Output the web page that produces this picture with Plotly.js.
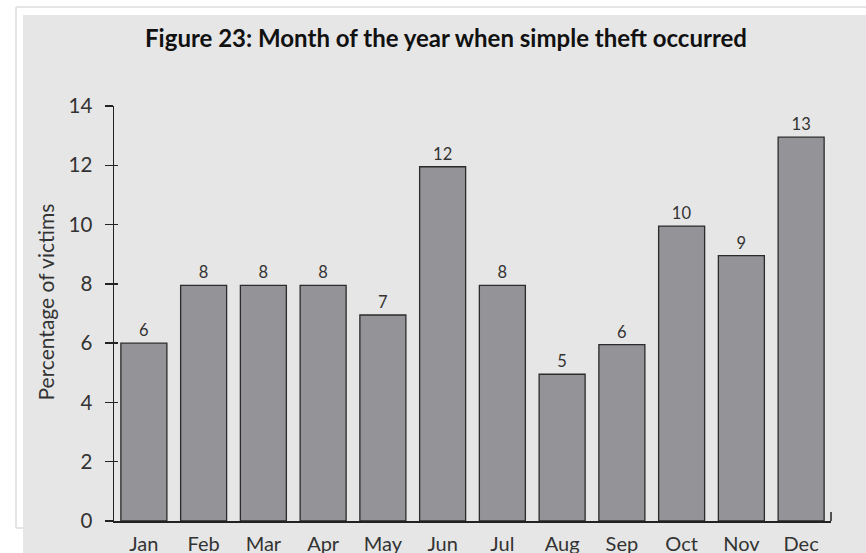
<!DOCTYPE html>
<html>
<head>
<meta charset="utf-8">
<script src="https://cdn.plot.ly/plotly-3.0.1.min.js"></script>
<style>
html, body { margin: 0; padding: 0; background: #fff; }
#chart { width: 866px; height: 553px; }
</style>
</head>
<body>
<div id="chart"></div>
<script>
// Data
var months = ["Jan", "Feb", "Mar", "Apr", "May", "Jun", "Jul", "Aug", "Sep", "Oct", "Nov", "Dec"];
var percentVictims = [6.0, 7.95, 7.95, 7.95, 6.95, 11.95, 7.95, 4.95, 5.95, 9.95, 8.95, 12.95];
var yTicks = [0, 2, 4, 6, 8, 10, 12, 14];
var chartTitle = "Figure 23: Month of the year when simple theft occurred";
var yTitle = "Percentage of victims";

var fontFam = "Lato, 'Open Sans', sans-serif";
var ink = "#222222";
var textCol = "#333333";

var trace = {
  type: "bar",
  x: months,
  y: percentVictims,
  marker: { color: "#939398", line: { color: "#2b2b2b", width: 1.3 } },
  texttemplate: "%{y:.0f}",
  textposition: "outside",
  textfont: { family: fontFam, size: 16.5, color: textCol },
  cliponaxis: false,
  hoverinfo: "x+y"
};

var W = 866, H = 553;
var mL = 114, mR = 35, mT = 106, mB = 32;
var pw = W - mL - mR, ph = H - mT - mB;
function px2x(p) { return (p - mL) / pw; }
function py2y(p) { return (H - mB - p) / ph; }

var layout = {
  width: W, height: H,
  margin: { l: mL, r: mR, t: mT, b: mB, pad: 0 },
  paper_bgcolor: "#ffffff",
  plot_bgcolor: "rgba(0,0,0,0)",
  bargap: 0.23,
  showlegend: false,
  title: {
    text: "<b>" + chartTitle + "</b>",
    font: { family: fontFam, size: 24, color: "#111111" },
    xref: "container", x: 446 / W, xanchor: "center",
    yref: "container", y: 1 - 38.5 / H, yanchor: "middle"
  },
  xaxis: {
    type: "category",
    range: [-0.5, months.length - 0.5],
    showline: true, linecolor: ink, linewidth: 1.5,
    ticks: "", showgrid: false, zeroline: false,
    tickfont: { family: fontFam, size: 20, color: textCol },
    ticklabelstandoff: 4
  },
  yaxis: {
    range: [0, 14],
    tickvals: yTicks,
    ticks: "outside", ticklen: 8, tickwidth: 1.5, tickcolor: ink,
    showline: true, linecolor: ink, linewidth: 1.5,
    showgrid: false, zeroline: false,
    tickfont: { family: fontFam, size: 20.5, color: textCol },
    ticklabelstandoff: 8
  },
  yaxis2: {
    overlaying: "y", anchor: "x", side: "left",
    range: [0, 14], tickvals: yTicks,
    ticks: "inside", ticklen: 4, tickwidth: 1.5, tickcolor: ink,
    showticklabels: false, showline: false, showgrid: false, zeroline: false
  },
  annotations: [
    { text: yTitle, textangle: -90, showarrow: false,
      xref: "paper", yref: "paper", x: px2x(45), y: py2y(302.5),
      xanchor: "center", yanchor: "middle",
      font: { family: fontFam, size: 21, color: textCol } }
  ],
  shapes: [
    // gray panel
    { type: "rect", layer: "below", xref: "paper", yref: "paper",
      x0: px2x(23), x1: px2x(880), y0: py2y(15), y1: py2y(570),
      fillcolor: "#e6e6e6", line: { width: 0 } },
    // faint outer frame
    { type: "line", layer: "below", xref: "paper", yref: "paper",
      x0: px2x(16), x1: px2x(880), y0: py2y(7), y1: py2y(7),
      line: { color: "#dcdcdc", width: 1.5 } },
    { type: "line", layer: "below", xref: "paper", yref: "paper",
      x0: px2x(16), x1: px2x(16), y0: py2y(7), y1: py2y(528),
      line: { color: "#dcdcdc", width: 1.5 } },
    { type: "line", layer: "below", xref: "paper", yref: "paper",
      x0: px2x(16), x1: px2x(23), y0: py2y(528), y1: py2y(528),
      line: { color: "#dcdcdc", width: 1.5 } },
    // end tick at right of x axis
    { type: "line", xref: "paper", yref: "paper",
      x0: 1, x1: 1, y0: 0, y1: 9 / ph,
      line: { color: ink, width: 1.5 } }
  ]
};

var trace2 = { type: "scatter", x: [], y: [], yaxis: "y2", hoverinfo: "skip", showlegend: false };

Plotly.newPlot("chart", [trace, trace2], layout, { displayModeBar: false, staticPlot: true });
</script>
</body>
</html>
